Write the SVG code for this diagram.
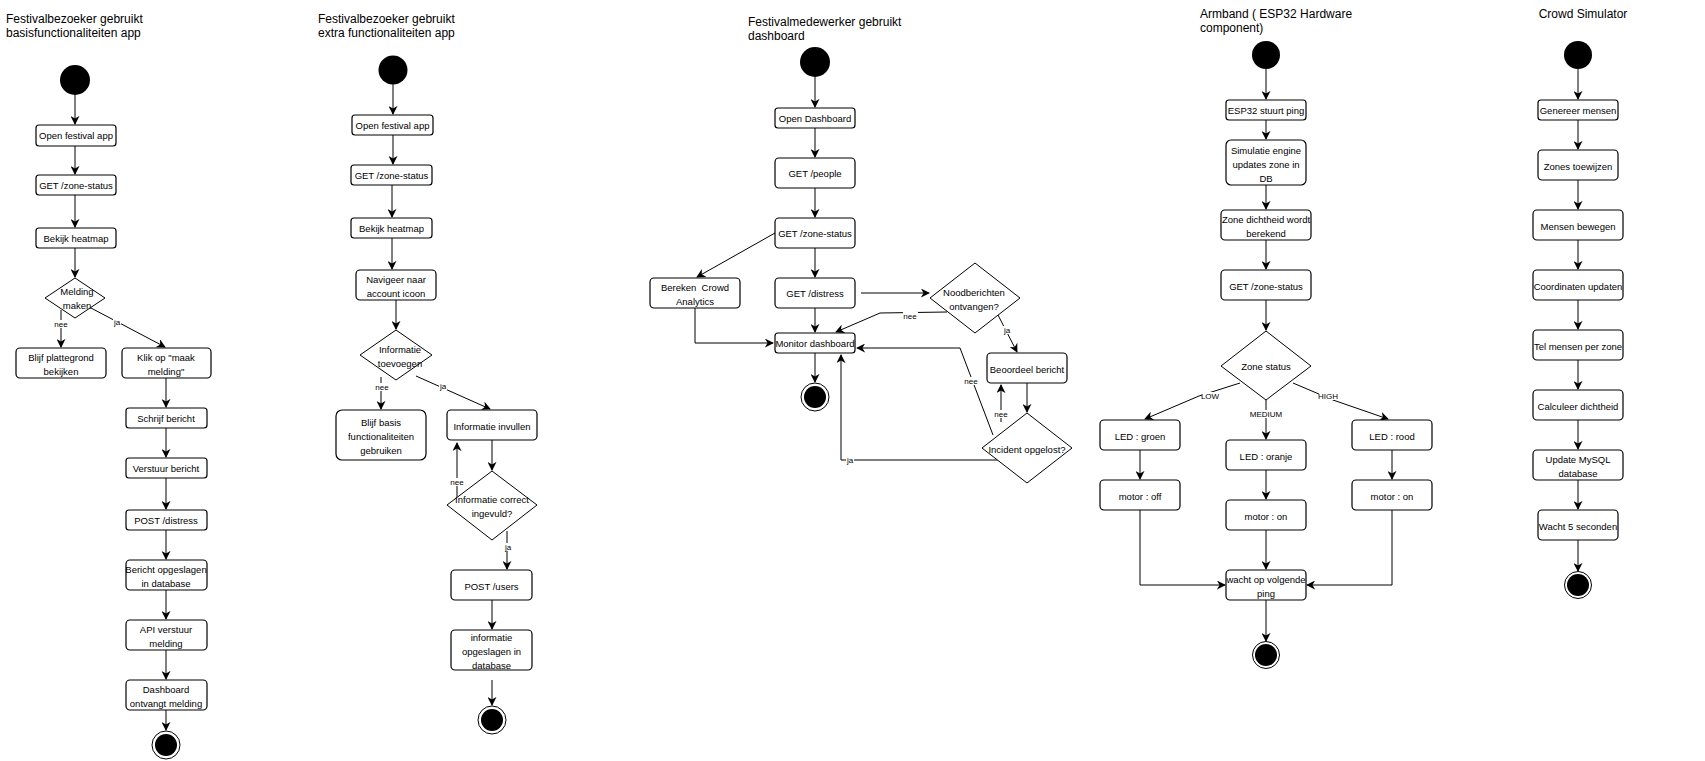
<svg xmlns="http://www.w3.org/2000/svg" width="1705" height="761" viewBox="0 0 1705 761">
<style>
text{font-family:"Liberation Sans",Arial,sans-serif;fill:#000;white-space:pre}
.t{font-size:12px}
.b{font-size:9.5px;text-anchor:middle;dominant-baseline:middle}
.l{font-size:8px;text-anchor:middle;dominant-baseline:middle}
.n rect{fill:#fff;stroke:#000;stroke-width:1.2}
.n polygon{fill:#fff;stroke:#000;stroke-width:1}
.s{fill:#000}
.e circle.o{fill:#fff;stroke:#000;stroke-width:1}
.c path{fill:none;stroke:#000;stroke-width:1;marker-end:url(#a)}
.lb rect{fill:#fff}
</style>
<defs>
<marker id="a" viewBox="0 0 10 10" refX="9" refY="5" markerWidth="9" markerHeight="9" markerUnits="userSpaceOnUse" orient="auto"><path d="M0,0 L10,5 L0,10 L3,5 z" fill="#000"/></marker>
</defs>
<rect width="1705" height="761" fill="#fff"/>
<g id="titles">
<text class="t" x="6" y="23">Festivalbezoeker gebruikt</text><text class="t" x="6" y="37">basisfunctionaliteiten app</text>
<text class="t" x="318" y="23">Festivalbezoeker gebruikt</text><text class="t" x="318" y="37">extra functionaliteiten app</text>
<text class="t" x="748" y="26">Festivalmedewerker gebruikt</text><text class="t" x="748" y="40">dashboard</text>
<text class="t" x="1200" y="18">Armband ( ESP32 Hardware</text><text class="t" x="1200" y="32">component)</text>
<text class="t" x="1583" y="18" text-anchor="middle">Crowd Simulator</text>
</g>
<g class="c" id="connectors">
<path d="M75,95 V124"/><path d="M75,146 V174"/><path d="M75,195 V227"/><path d="M75,248 V277"/>
<path d="M61,310 V347"/><path d="M91,308 L165,347"/>
<path d="M166,378 V407"/><path d="M166,428 V457"/><path d="M166,478 V509"/><path d="M166,530 V559"/><path d="M166,590 V619"/><path d="M166,650 V679"/><path d="M166,710 V730"/>
<path d="M393,84 V114"/><path d="M393,135 V164"/><path d="M392,185 V217"/><path d="M392,238 V269"/><path d="M396,300 V329"/>
<path d="M381,377 V409"/><path d="M416,376 L490,409"/>
<path d="M492,440 V470"/><path d="M457,497 V443"/><path d="M507,531 V569"/><path d="M492,600 V629"/><path d="M492,680 V705"/>
<path d="M815,77 V107"/><path d="M815,128 V157"/><path d="M815,188 V217"/><path d="M815,248 V277"/><path d="M815,308 V332"/><path d="M815,353 V382"/>
<path d="M775,233 L697,277"/><path d="M695,308 V343 H773"/>
<path d="M861,293 H929"/><path d="M947,312 L880,313 L836,332"/><path d="M998,315 L1017,352"/>
<path d="M1027,383 V412"/><path d="M1001,422 V385"/><path d="M993,435 L960,348 H857"/><path d="M1000,460 H841 V355"/>
<path d="M1266,69 V99"/><path d="M1266,120 V139"/><path d="M1266,185 V209"/><path d="M1266,240 V269"/><path d="M1266,300 V330"/>
<path d="M1240,383 L1199,396 L1145,419"/><path d="M1266,400 V439"/><path d="M1293,383 L1333,400 L1388,419"/>
<path d="M1140,450 V479"/><path d="M1266,470 V499"/><path d="M1392,450 V479"/>
<path d="M1140,510 V585 H1225"/><path d="M1266,530 V569"/><path d="M1392,510 V585 H1307"/><path d="M1266,600 V641"/>
<path d="M1578,69 V99"/><path d="M1578,120 V149"/><path d="M1578,180 V209"/><path d="M1578,240 V269"/><path d="M1578,300 V329"/><path d="M1578,360 V389"/><path d="M1578,420 V449"/><path d="M1578,480 V509"/><path d="M1578,540 V571"/>
</g>
<g id="edge-labels" class="lb">
<rect x="54" y="320" width="15" height="8"/><text class="l" x="61" y="324.5">nee</text>
<rect x="113" y="318" width="8" height="8"/><text class="l" x="117" y="322.5">ja</text>
<rect x="374" y="383" width="15" height="8"/><text class="l" x="382" y="387.5">nee</text>
<rect x="439" y="382" width="8" height="8"/><text class="l" x="443" y="386.5">ja</text>
<rect x="450" y="478" width="15" height="8"/><text class="l" x="457" y="482.5">nee</text>
<rect x="504" y="543" width="8" height="8"/><text class="l" x="508" y="547.5">ja</text>
<rect x="903" y="312" width="15" height="8"/><text class="l" x="910" y="316.5">nee</text>
<rect x="1003" y="326" width="8" height="8"/><text class="l" x="1007" y="330.5">ja</text>
<rect x="994" y="410" width="15" height="8"/><text class="l" x="1001" y="414.5">nee</text>
<rect x="964" y="377" width="15" height="8"/><text class="l" x="971" y="381.5">nee</text>
<rect x="846" y="456" width="8" height="8"/><text class="l" x="850" y="460.5">ja</text>
<rect x="1202" y="392" width="17" height="8"/><text class="l" x="1210" y="396.5">LOW</text>
<rect x="1252" y="410" width="28" height="8"/><text class="l" x="1266" y="414.5">MEDIUM</text>
<rect x="1319" y="392" width="18" height="8"/><text class="l" x="1328" y="396.5">HIGH</text>
</g>
<g id="col1-start"><circle class="s" cx="75" cy="80" r="15"/></g>
<g class="n" id="c1-open"><rect x="36" y="125" width="80" height="21" rx="3"/><text class="b" x="76" y="136">Open festival app</text></g>
<g class="n" id="c1-get"><rect x="36" y="175" width="80" height="20" rx="3"/><text class="b" x="76" y="186">GET /zone-status</text></g>
<g class="n" id="c1-heat"><rect x="36" y="228" width="80" height="20" rx="3"/><text class="b" x="76" y="239">Bekijk heatmap</text></g>
<g class="n" id="c1-dec"><polygon points="75,278 105,298 75,318 45,298"/><text class="b" x="77" y="292">Melding</text><text class="b" x="77" y="306">maken</text></g>
<g class="n" id="c1-blijf"><rect x="16" y="348" width="90" height="30" rx="4"/><text class="b" x="61" y="358">Blijf plattegrond</text><text class="b" x="61" y="372">bekijken</text></g>
<g class="n" id="c1-klik"><rect x="122" y="348" width="89" height="30" rx="4"/><text class="b" x="166" y="358">Klik op "maak</text><text class="b" x="166" y="372">melding"</text></g>
<g class="n" id="c1-schrijf"><rect x="126" y="408" width="81" height="20" rx="3"/><text class="b" x="166" y="419">Schrijf bericht</text></g>
<g class="n" id="c1-verstuur"><rect x="126" y="458" width="81" height="20" rx="3"/><text class="b" x="166" y="469">Verstuur bericht</text></g>
<g class="n" id="c1-post"><rect x="126" y="510" width="81" height="20" rx="3"/><text class="b" x="166" y="521">POST /distress</text></g>
<g class="n" id="c1-opgeslagen"><rect x="126" y="560" width="81" height="30" rx="4"/><text class="b" x="166" y="570">Bericht opgeslagen</text><text class="b" x="166" y="584">in database</text></g>
<g class="n" id="c1-api"><rect x="126" y="620" width="81" height="30" rx="4"/><text class="b" x="166" y="630">API verstuur</text><text class="b" x="166" y="644">melding</text></g>
<g class="n" id="c1-dash"><rect x="126" y="680" width="81" height="30" rx="4"/><text class="b" x="166" y="690">Dashboard</text><text class="b" x="166" y="704">ontvangt melding</text></g>
<g class="e" id="c1-end"><circle class="o" cx="166" cy="745" r="14"/><circle class="s" cx="166" cy="745" r="11"/></g>

<g id="col2-start"><circle class="s" cx="393" cy="70" r="14.5"/></g>
<g class="n" id="c2-open"><rect x="352" y="115" width="81" height="20" rx="3"/><text class="b" x="392.5" y="126">Open festival app</text></g>
<g class="n" id="c2-get"><rect x="351" y="165" width="81" height="20" rx="3"/><text class="b" x="391.5" y="176">GET /zone-status</text></g>
<g class="n" id="c2-heat"><rect x="351" y="218" width="81" height="20" rx="3"/><text class="b" x="391.5" y="229">Bekijk heatmap</text></g>
<g class="n" id="c2-nav"><rect x="356" y="270" width="80" height="30" rx="4"/><text class="b" x="396" y="280">Navigeer naar</text><text class="b" x="396" y="294">account icoon</text></g>
<g class="n" id="c2-dec"><polygon points="396,330 432,355 396,380 360,355"/><text class="b" x="400" y="350">Informatie</text><text class="b" x="400" y="364">toevoegen</text></g>
<g class="n" id="c2-blijf"><rect x="336" y="410" width="90" height="50" rx="6"/><text class="b" x="381" y="423">Blijf basis</text><text class="b" x="381" y="437">functionaliteiten</text><text class="b" x="381" y="451">gebruiken</text></g>
<g class="n" id="c2-invullen"><rect x="447" y="410" width="90" height="30" rx="4"/><text class="b" x="492" y="427">Informatie invullen</text></g>
<g class="n" id="c2-dec2"><polygon points="492,471 537,505 492,540 447,505"/><text class="b" x="492" y="500">Informatie correct</text><text class="b" x="492" y="514">ingevuld?</text></g>
<g class="n" id="c2-post"><rect x="451" y="570" width="81" height="30" rx="4"/><text class="b" x="491.5" y="587">POST /users</text></g>
<g class="n" id="c2-opg"><rect x="451" y="630" width="81" height="40" rx="4"/><text class="b" x="491.5" y="638">informatie</text><text class="b" x="491.5" y="652">opgeslagen in</text><text class="b" x="491.5" y="666">database</text></g>
<g class="e" id="c2-end"><circle class="o" cx="492" cy="720" r="14"/><circle class="s" cx="492" cy="720" r="11"/></g>

<g id="col3-start"><circle class="s" cx="815" cy="62" r="15"/></g>
<g class="n" id="c3-open"><rect x="775" y="108" width="80" height="20" rx="3"/><text class="b" x="815" y="119">Open Dashboard</text></g>
<g class="n" id="c3-people"><rect x="775" y="158" width="80" height="30" rx="4"/><text class="b" x="815" y="174">GET /people</text></g>
<g class="n" id="c3-zone"><rect x="775" y="218" width="80" height="30" rx="4"/><text class="b" x="815" y="234">GET /zone-status</text></g>
<g class="n" id="c3-distress"><rect x="775" y="278" width="80" height="30" rx="4"/><text class="b" x="815" y="294">GET /distress</text></g>
<g class="n" id="c3-bereken"><rect x="650" y="278" width="90" height="30" rx="4"/><text class="b" x="695" y="288">Bereken  Crowd</text><text class="b" x="695" y="302">Analytics</text></g>
<g class="n" id="c3-monitor"><rect x="775" y="333" width="80" height="20" rx="3"/><text class="b" x="815" y="344">Monitor dashboard</text></g>
<g class="e" id="c3-end"><circle class="o" cx="815" cy="397" r="14"/><circle class="s" cx="815" cy="397" r="11"/></g>
<g class="n" id="c3-nood"><polygon points="975,263 1020,298 975,333 930,298"/><text class="b" x="974" y="293">Noodberichten</text><text class="b" x="974" y="307">ontvangen?</text></g>
<g class="n" id="c3-beoordeel"><rect x="987" y="353" width="80" height="30" rx="4"/><text class="b" x="1027" y="370">Beoordeel bericht</text></g>
<g class="n" id="c3-incident"><polygon points="1027,413 1072,448 1027,483 982,448"/><text class="b" x="1027" y="450">Incident opgelost?</text></g>

<g id="col4-start"><circle class="s" cx="1266" cy="55" r="14"/></g>
<g class="n" id="c4-esp"><rect x="1226" y="100" width="80" height="20" rx="3"/><text class="b" x="1266" y="111">ESP32 stuurt ping</text></g>
<g class="n" id="c4-sim"><rect x="1226" y="140" width="80" height="45" rx="5"/><text class="b" x="1266" y="151">Simulatie engine</text><text class="b" x="1266" y="165">updates zone in</text><text class="b" x="1266" y="179">DB</text></g>
<g class="n" id="c4-dicht"><rect x="1221" y="210" width="90" height="30" rx="4"/><text class="b" x="1266" y="220">Zone dichtheid wordt</text><text class="b" x="1266" y="234">berekend</text></g>
<g class="n" id="c4-get"><rect x="1221" y="270" width="90" height="30" rx="4"/><text class="b" x="1266" y="287">GET /zone-status</text></g>
<g class="n" id="c4-dec"><polygon points="1266,331 1311,366 1266,400 1221,366"/><text class="b" x="1266" y="367">Zone status</text></g>
<g class="n" id="c4-groen"><rect x="1100" y="420" width="80" height="30" rx="4"/><text class="b" x="1140" y="437">LED : groen</text></g>
<g class="n" id="c4-oranje"><rect x="1226" y="440" width="80" height="30" rx="4"/><text class="b" x="1266" y="457">LED : oranje</text></g>
<g class="n" id="c4-rood"><rect x="1352" y="420" width="80" height="30" rx="4"/><text class="b" x="1392" y="437">LED : rood</text></g>
<g class="n" id="c4-off"><rect x="1100" y="480" width="80" height="30" rx="4"/><text class="b" x="1140" y="497">motor : off</text></g>
<g class="n" id="c4-on1"><rect x="1226" y="500" width="80" height="30" rx="4"/><text class="b" x="1266" y="517">motor : on</text></g>
<g class="n" id="c4-on2"><rect x="1352" y="480" width="80" height="30" rx="4"/><text class="b" x="1392" y="497">motor : on</text></g>
<g class="n" id="c4-wacht"><rect x="1226" y="570" width="80" height="30" rx="4"/><text class="b" x="1266" y="580">wacht op volgende</text><text class="b" x="1266" y="594">ping</text></g>
<g class="e" id="c4-end"><circle class="o" cx="1266" cy="655" r="13.5"/><circle class="s" cx="1266" cy="655" r="11"/></g>

<g id="col5-start"><circle class="s" cx="1578" cy="55" r="14"/></g>
<g class="n" id="c5-gen"><rect x="1538" y="100" width="80" height="20" rx="3"/><text class="b" x="1578" y="111">Genereer mensen</text></g>
<g class="n" id="c5-zones"><rect x="1538" y="150" width="80" height="30" rx="4"/><text class="b" x="1578" y="167">Zones toewijzen</text></g>
<g class="n" id="c5-bewegen"><rect x="1533" y="210" width="90" height="30" rx="4"/><text class="b" x="1578" y="227">Mensen bewegen</text></g>
<g class="n" id="c5-coord"><rect x="1533" y="270" width="90" height="30" rx="4"/><text class="b" x="1578" y="287">Coordinaten updaten</text></g>
<g class="n" id="c5-tel"><rect x="1533" y="330" width="90" height="30" rx="4"/><text class="b" x="1578" y="347">Tel mensen per zone</text></g>
<g class="n" id="c5-calc"><rect x="1533" y="390" width="90" height="30" rx="4"/><text class="b" x="1578" y="407">Calculeer dichtheid</text></g>
<g class="n" id="c5-mysql"><rect x="1533" y="450" width="90" height="30" rx="4"/><text class="b" x="1578" y="460">Update MySQL</text><text class="b" x="1578" y="474">database</text></g>
<g class="n" id="c5-wacht"><rect x="1538" y="510" width="80" height="30" rx="4"/><text class="b" x="1578" y="527">Wacht 5 seconden</text></g>
<g class="e" id="c5-end"><circle class="o" cx="1578" cy="585" r="13.5"/><circle class="s" cx="1578" cy="585" r="11"/></g>
</svg>
